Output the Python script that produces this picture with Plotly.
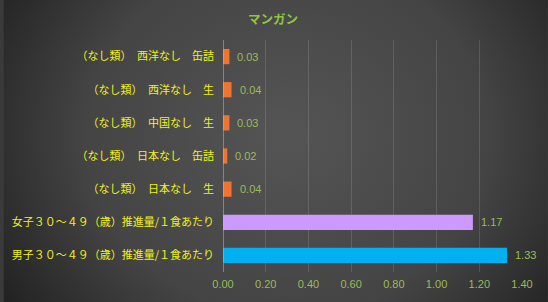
import plotly.graph_objects as go
import base64

categories = [
    "男子３０～４９（歳）推進量/１食あたり",
    "女子３０～４９（歳）推進量/１食あたり",
    "（なし類）　日本なし　生",
    "（なし類）　日本なし　缶詰",
    "（なし類）　中国なし　生",
    "（なし類）　西洋なし　生",
    "（なし類）　西洋なし　缶詰",
]
values = [1.33, 1.17, 0.04, 0.02, 0.03, 0.04, 0.03]
bar_colors = ["#00B0F0", "#CC99FF", "#EE7430", "#EE7430", "#EE7430", "#EE7430", "#EE7430"]
x_ticks = [0, 0.2, 0.4, 0.6, 0.8, 1.0, 1.2, 1.4]
title_text = "マンガン"

W, H = 548, 302
ml, mr, mt, mb = 221, 26, 40, 30

svg = f'''<svg xmlns="http://www.w3.org/2000/svg" width="{W}" height="{H}" viewBox="0 0 {W} {H}" preserveAspectRatio="none">
<defs><radialGradient id="g" cx="0.52" cy="0.45" r="0.62" gradientTransform="translate(0.52 0.45) scale(1 1.6) translate(-0.52 -0.45)">
<stop offset="0" stop-color="#555555"/><stop offset="0.6" stop-color="#444444"/><stop offset="1" stop-color="#222222"/></radialGradient></defs>
<rect width="{W}" height="{H}" fill="url(#g)"/></svg>'''
src = "data:image/svg+xml;base64," + base64.b64encode(svg.encode()).decode()

pw, ph = W - ml - mr, H - mt - mb

fig = go.Figure()
fig.add_trace(go.Bar(
    y=categories, x=values, orientation="h",
    marker=dict(color=bar_colors, line=dict(width=0)),
    width=0.46, hoverinfo="skip",
))
for c, v in zip(categories, values):
    fig.add_annotation(x=v, y=c, text=f"{v:.2f}", showarrow=False,
                       xanchor="left", xshift=6,
                       font=dict(family="Liberation Sans", size=11, color="#9BBB59"))

fig.update_layout(
    width=W, height=H,
    margin=dict(l=ml, r=mr, t=mt, b=mb),
    paper_bgcolor="#3a3a3a", plot_bgcolor="rgba(0,0,0,0)",
    showlegend=False,
    title=dict(text=f"<b>{title_text}</b>", x=273 / W, xref="container", xanchor="center",
               y=1 - 20 / H, yref="container", yanchor="middle",
               font=dict(family="Noto Sans CJK JP", size=12.5, color="#8CC63F")),
    images=[dict(source=src, xref="paper", yref="paper",
                 x=-ml / pw, y=1 + mt / ph, sizex=W / pw, sizey=H / ph,
                 xanchor="left", yanchor="top", sizing="stretch", layer="below")],
    xaxis=dict(range=[0, 1.4], tickvals=x_ticks, ticktext=[f"{t:.2f}" for t in x_ticks],
               showgrid=True, gridcolor="rgba(255,255,255,0.13)", gridwidth=1,
               zeroline=False, showline=False, ticks="",
               tickfont=dict(family="Liberation Sans", size=11, color="#9BBB59"),
               ticklabelstandoff=4, fixedrange=True),
    yaxis=dict(showgrid=False, zeroline=False, showline=False, ticks="",
               tickfont=dict(family="Noto Sans CJK JP", size=11, color="#F0F020"),
               ticklabelstandoff=8, fixedrange=True),
    shapes=[dict(type="line", xref="x", yref="paper", x0=0, x1=0, y0=0, y1=1,
                 line=dict(color="#BBBBBB", width=1), layer="above")],
    bargap=0.54,
)

fig.write_html("out.html", config={"displayModeBar": False})
